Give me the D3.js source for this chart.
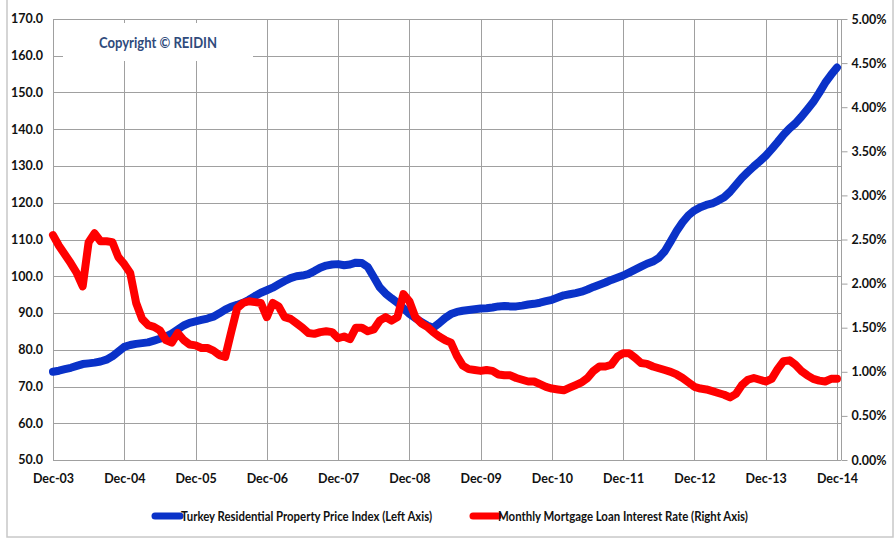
<!DOCTYPE html>
<html><head><meta charset="utf-8">
<script src="https://cdn.jsdelivr.net/npm/d3@7"></script>
<style>
html,body{margin:0;padding:0;background:#fff;}
svg{display:block;}
text{font-family:"Lato","Open Sans",sans-serif;font-weight:bold;}
</style></head>
<body>
<svg id="chart" width="895" height="541"></svg>
<script>
const tickLabels = ["Dec-03","Dec-04","Dec-05","Dec-06","Dec-07","Dec-08","Dec-09","Dec-10","Dec-11","Dec-12","Dec-13","Dec-14"];
const leftTicks = [50,60,70,80,90,100,110,120,130,140,150,160,170];
const rightTicks = [0,0.5,1,1.5,2,2.5,3,3.5,4,4.5,5];
const seriesNames = ["Turkey Residential Property Price Index (Left Axis)","Monthly Mortgage Loan Interest Rate (Right Axis)"];
// monthly values Dec-03 .. Dec-14 (133 months)
const priceIndex = [
74.0,74.3,74.7,75.1,75.6,76.1,76.3,76.5,76.8,77.3,78.2,79.5,
80.8,81.3,81.6,81.8,82.0,82.5,83.0,83.6,84.4,85.5,86.6,87.3,
87.7,88.1,88.5,89.0,89.9,90.9,91.7,92.2,92.8,93.6,94.6,95.5,
96.2,96.9,97.8,98.7,99.5,100.0,100.2,100.6,101.4,102.3,102.9,103.2,
103.3,103.0,103.2,103.7,103.6,102.5,99.8,97.0,95.3,94.0,92.8,91.3,
89.8,88.6,87.6,86.6,86.0,87.2,88.6,89.7,90.3,90.6,90.8,91.0,
91.2,91.3,91.5,91.8,91.9,91.8,91.8,92.0,92.3,92.5,92.8,93.2,
93.6,94.2,94.8,95.1,95.4,95.8,96.4,97.1,97.7,98.3,99.0,99.6,
100.2,101.0,101.8,102.6,103.4,104.0,105.0,106.8,109.5,112.3,114.7,116.6,
117.9,118.8,119.4,119.8,120.6,121.5,123.0,124.9,126.8,128.4,129.9,131.3,
132.8,134.6,136.5,138.5,140.2,141.6,143.4,145.4,147.4,149.9,152.6,154.8,
156.8];
const mortgageRate = [
2.55,2.43,2.33,2.23,2.12,1.97,2.47,2.57,2.48,2.48,2.47,2.30,
2.22,2.12,1.78,1.60,1.53,1.51,1.47,1.36,1.33,1.44,1.36,1.31,
1.30,1.27,1.27,1.24,1.19,1.17,1.45,1.72,1.78,1.80,1.79,1.78,
1.62,1.78,1.74,1.62,1.60,1.55,1.50,1.44,1.43,1.45,1.46,1.45,
1.38,1.40,1.37,1.50,1.50,1.46,1.48,1.58,1.62,1.58,1.62,1.88,
1.80,1.62,1.55,1.51,1.45,1.40,1.36,1.33,1.18,1.07,1.03,1.02,
1.01,1.02,1.01,0.97,0.96,0.96,0.93,0.91,0.89,0.89,0.86,0.83,
0.81,0.80,0.79,0.82,0.85,0.88,0.93,1.01,1.06,1.06,1.08,1.17,
1.21,1.21,1.16,1.10,1.09,1.06,1.04,1.02,1.00,0.97,0.93,0.88,
0.83,0.81,0.80,0.78,0.76,0.74,0.71,0.75,0.85,0.91,0.93,0.91,
0.89,0.92,1.03,1.12,1.13,1.08,1.01,0.96,0.92,0.90,0.89,0.92,
0.92];

const svg = d3.select("#chart");
const L = 53, R = 837, T = 19, B = 460, RA = 841;
const x = d3.scaleLinear().domain([0, 132]).range([L, R]);
const yL = d3.scaleLinear().domain([50, 170]).range([B, T]);
const yR = d3.scaleLinear().domain([0, 5]).range([B, T]);

// outer frame
svg.append("rect").attr("x",7).attr("y",-2).attr("width",886).attr("height",539)
  .attr("fill","none").attr("stroke","#c8c8c8").attr("stroke-width",1.5);

// horizontal gridlines
svg.append("g").selectAll("line").data(leftTicks).join("line")
  .attr("x1",L).attr("x2",RA).attr("y1",d=>Math.round(yL(d))+0.5).attr("y2",d=>Math.round(yL(d))+0.5)
  .attr("stroke","#a0a0a0").attr("stroke-width",1);
// vertical gridlines
const xTickVals = tickLabels.map((_,i)=>i*12);
svg.append("g").selectAll("line").data(xTickVals).join("line")
  .attr("x1",d=>Math.round(x(d))+0.5).attr("x2",d=>Math.round(x(d))+0.5).attr("y1",T).attr("y2",B)
  .attr("stroke","#a0a0a0").attr("stroke-width",1);
// right axis line
svg.append("line").attr("x1",RA+0.5).attr("x2",RA+0.5).attr("y1",T).attr("y2",B).attr("stroke","#a0a0a0");

// left axis labels
svg.append("g").selectAll("text").data(leftTicks).join("text")
  .attr("x",43).attr("y",d=>yL(d)).attr("dy","0.35em").attr("text-anchor","end")
  .attr("font-size",12.5).attr("fill","#111").text(d=>d.toFixed(1));

// right axis ticks + labels
const rAxis = d3.axisRight(yR).tickValues(rightTicks).tickSize(6).tickPadding(4)
  .tickFormat(d=>d.toFixed(2)+"%");
const rg = svg.append("g").attr("transform",`translate(${RA+0.5},0)`).call(rAxis);
rg.select(".domain").remove();
rg.selectAll(".tick line").attr("stroke","#a0a0a0");
rg.selectAll(".tick text").attr("font-size",12.5).attr("fill","#111")
  .style("font-family","Lato, 'Open Sans', sans-serif").style("font-weight","bold");

// x axis labels
const xAxis = d3.axisBottom(x).tickValues(xTickVals).tickSize(0).tickPadding(14)
  .tickFormat((d,i)=>tickLabels[i]);
const xg = svg.append("g").attr("transform",`translate(0,${B})`).call(xAxis);
xg.select(".domain").remove();
xg.selectAll(".tick text").attr("font-size",12.5).attr("fill","#111")
  .style("font-family","Lato, 'Open Sans', sans-serif").style("font-weight","bold");

// copyright box
svg.append("rect").attr("x",63).attr("y",23).attr("width",190).attr("height",38).attr("fill","#fff");
svg.append("text").attr("x",158).attr("y",48).attr("text-anchor","middle")
  .attr("font-size",14.5).attr("fill","#2f4b7c").attr("textLength",118).attr("lengthAdjust","spacingAndGlyphs")
  .text("Copyright © REIDIN");

// lines
const lineL = d3.line().x((d,i)=>x(i)).y(d=>yL(d)).curve(d3.curveLinear);
const lineR = d3.line().x((d,i)=>x(i)).y(d=>yR(d)).curve(d3.curveLinear);
svg.append("path").datum(priceIndex).attr("d",lineL).attr("fill","none")
  .attr("stroke","#0a32c8").attr("stroke-width",8).attr("stroke-linejoin","round").attr("stroke-linecap","round");
svg.append("path").datum(mortgageRate).attr("d",lineR).attr("fill","none")
  .attr("stroke","#ff0000").attr("stroke-width",8).attr("stroke-linejoin","round").attr("stroke-linecap","round");

// legend
const legend = [
  {name:seriesNames[0], color:"#0a32c8", x1:155, x2:180, tx:181, w:251},
  {name:seriesNames[1], color:"#ff0000", x1:473, x2:498, tx:498, w:250}
];
const lg = svg.append("g");
legend.forEach(d=>{
  lg.append("line").attr("x1",d.x1).attr("x2",d.x2).attr("y1",516).attr("y2",516)
    .attr("stroke",d.color).attr("stroke-width",7).attr("stroke-linecap","round");
  lg.append("text").attr("x",d.tx).attr("y",516).attr("dy","0.35em").attr("font-size",13)
    .attr("fill","#111").attr("textLength",d.w).attr("lengthAdjust","spacingAndGlyphs").text(d.name);
});
</script>
</body></html>
